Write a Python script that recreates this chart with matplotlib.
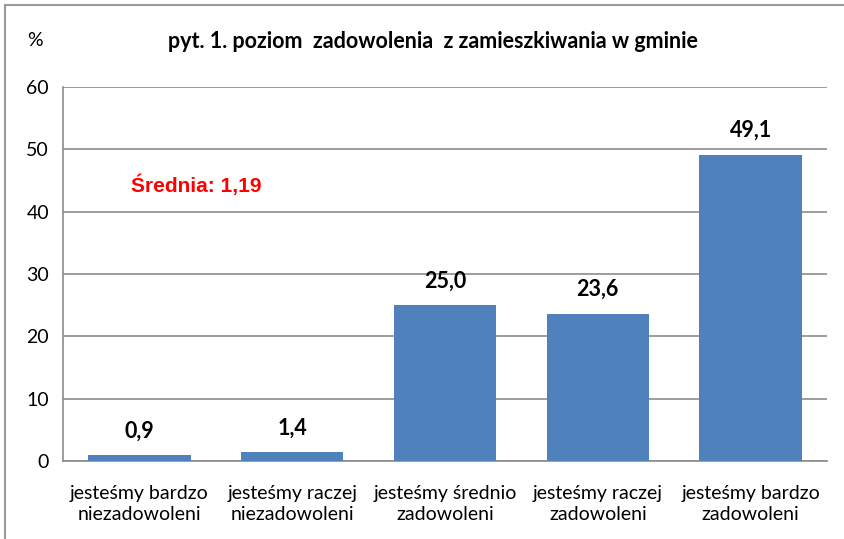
import matplotlib
matplotlib.use('Agg')
import matplotlib.pyplot as plt
from matplotlib.patches import Rectangle
import numpy as np

# dane
kategorie = ['jesteśmy bardzo\nniezadowoleni', 'jesteśmy raczej\nniezadowoleni',
             'jesteśmy średnio\nzadowoleni', 'jesteśmy raczej\nzadowoleni',
             'jesteśmy bardzo\nzadowoleni']
wartosci = [0.9, 1.4, 25.0, 23.6, 49.1]
etykiety = ['0,9', '1,4', '25,0', '23,6', '49,1']
y_ticks = [0, 10, 20, 30, 40, 50, 60]
tytul = 'pyt. 1. poziom  zadowolenia  z zamieszkiwania w gminie'
srednia = 'Średnia: 1,19'

plt.rcParams['font.family'] = ['Lato', 'DejaVu Sans']

fig = plt.figure(figsize=(8.45, 5.39), dpi=100)
W, H = 845, 539
ax = fig.add_axes([63 / W, 1 - 461 / H, (827 - 63) / W, (461 - 87) / H])

x = np.arange(len(wartosci))
ax.bar(x, wartosci, width=0.67, color='#4F81BD', zorder=3)
for xi, v, t in zip(x, wartosci, etykiety):
    ax.annotate(t, (xi, v), xytext=(0, 10), textcoords='offset points',
                ha='center', va='bottom', fontsize=15.5, fontweight='bold')

ax.set_xlim(-0.5, len(wartosci) - 0.5)
ax.set_ylim(0, 60)
ax.set_yticks(y_ticks)
ax.set_yticklabels([str(t) for t in y_ticks], fontsize=14)
ax.set_xticks(x)
ax.set_xticklabels(kategorie, fontsize=14, linespacing=1.3)
ax.tick_params(length=0, pad=10)
ax.tick_params(axis='x', pad=17)
ax.yaxis.grid(True, color='#8c8c8c', linewidth=1.2, zorder=0)
for s in ['top', 'right']:
    ax.spines[s].set_visible(False)
for s in ['left', 'bottom']:
    ax.spines[s].set_color('#8c8c8c')
    ax.spines[s].set_linewidth(1.2)

ax.text(0.37, 44.3, srednia, color='#FF0000', fontsize=15, fontweight='bold',
        family='Liberation Sans', ha='center', va='center')

fig.text(433 / W, 1 - 42 / H, tytul, ha='center', va='center',
         fontsize=15.5, fontweight='bold')
fig.text(35 / W, 1 - 40 / H, '%', ha='center', va='center', fontsize=14)

# ramka wykresu
fig.patches.append(Rectangle((5 / W, -0.05), 1.1, 1 - 5 / H + 0.05,
                             transform=fig.transFigure, fill=False,
                             edgecolor='#9a9a9a', linewidth=1.5))

fig.savefig('out.png', dpi=100)
